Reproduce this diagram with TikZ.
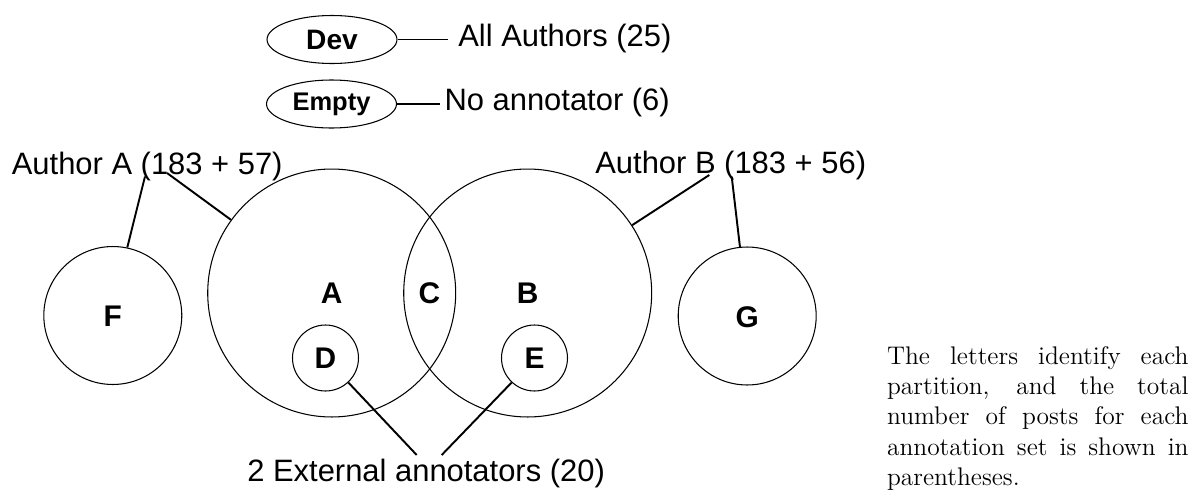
\documentclass[tikz,border=0pt]{standalone}
\usepackage{fontspec}
\newfontfamily\hv{Liberation Sans}
\usetikzlibrary{shapes.geometric}
\begin{document}
\begin{tikzpicture}[x=0.02cm,y=-0.02cm,
  ring/.style={circle,draw,line width=0.6pt,inner sep=0pt},
  oval/.style={ellipse,draw,line width=0.6pt,inner sep=0pt,minimum width=2.6cm,minimum height=0.96cm},
  lbl/.style={font=\hv\bfseries\fontsize{17}{19}\selectfont,inner sep=0pt},
  txt/.style={font=\hv\fontsize{17.6}{20}\selectfont,inner sep=0pt,anchor=base west},
  conn/.style={line width=1.1pt}]
\useasboundingbox (0,0) rectangle (1201,494);
% top ellipses
\node[oval,font=\hv\bfseries\fontsize{16}{18}\selectfont] (dev) at (332,39.5) {Dev};
\node[oval,font=\hv\bfseries\fontsize{14.5}{16}\selectfont] (empty) at (331.5,104) {Empty};
\node[txt,inner xsep=5.7pt] (allA) at (448,46.5) {All Authors (25)};
\node[txt,inner xsep=2.4pt] (noA) at (440,110) {No annotator (6)};
\draw[conn] (dev.east) -- (dev.east -| allA.west);
\draw[conn] (empty.east) -- (empty.east -| noA.west);
% circles
\node[ring,minimum size=4.96cm] (cA) at (331.7,293) {};
\node[ring,minimum size=4.96cm] (cB) at (527.7,293) {};
\node[ring,minimum size=1.32cm] (cD) at (325.5,358) {};
\node[ring,minimum size=1.32cm] (cE) at (534.5,358) {};
\node[ring,minimum size=2.76cm] (cF) at (112.8,315.5) {};
\node[ring,minimum size=2.76cm] (cG) at (747.2,316) {};
% letters
\node[lbl] (lA) at (331.7,293) {A};
\node[lbl] (lB) at (527.7,293) {B};
\node[lbl] (lC) at (429.5,293) {C};
\node[lbl] (lD) at (325.5,358) {D};
\node[lbl] (lE) at (534.5,358) {E};
\node[lbl] (lF) at (112.8,316) {F};
\node[lbl] (lG) at (747.2,317) {G};
% author labels
\node[txt] (authA) at (11.5,174) {Author A (183 + 57)};
\node[txt] (authB) at (595,173.5) {Author B (183 + 56)};
\node[txt] (ext) at (247,481.5) {2 External annotators (20)};
\coordinate (pA1) at (167,173);
\coordinate (pA2) at (145,176.5);
\coordinate (pB1) at (709.3,175);
\coordinate (pB2) at (731.7,176.5);
\coordinate (pE1) at (416.7,455);
\coordinate (pE2) at (441.7,455);
\draw[conn] (pA1) -- (cA.144);
\draw[conn] (pA2) -- (cF.78);
\draw[conn] (pB1) -- (cB.33);
\draw[conn] (pB2) -- (cG.96);
\draw[conn] (cD.-47) -- (pE1);
\draw[conn] (cE.-133) -- (pE2);
% caption
\node[anchor=base west,inner sep=0pt,text width=171.6pt,align=justify,
  font=\fontsize{14.5}{17.3}\selectfont] (cap) at (886.7,364)
  {The letters identify each\linebreak partition, and the total\linebreak number of posts for each\linebreak annotation set is shown in\linebreak parentheses.};
\end{tikzpicture}
\end{document}
